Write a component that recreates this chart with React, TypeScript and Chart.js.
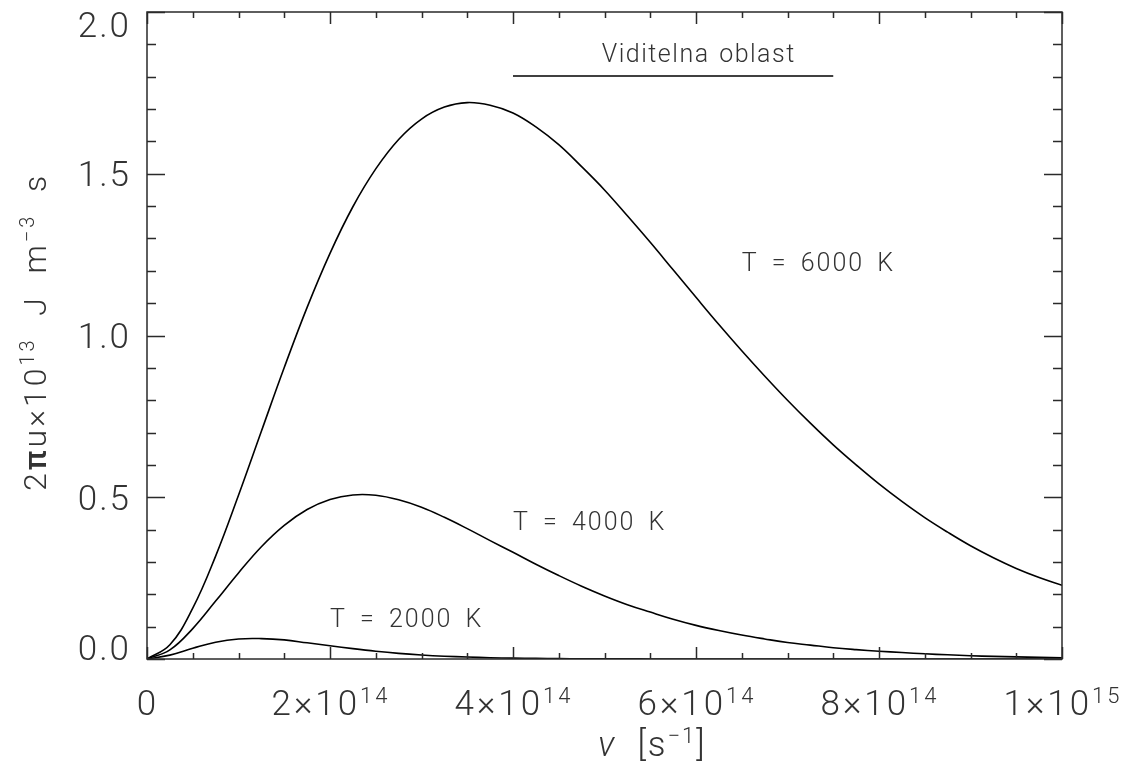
import React, { useEffect, useRef } from 'react';
import { Chart, registerables } from 'chart.js';

Chart.register(...registerables);

// frequency in units of 1e14 s^-1
const nu = [0, 0.25, 0.5, 0.75, 1, 1.25, 1.5, 1.75, 2, 2.25, 2.5, 2.75, 3, 3.25, 3.5, 3.75, 4, 4.25, 4.5, 4.75, 5, 5.25, 5.5, 5.75, 6, 6.25, 6.5, 6.75, 7, 7.25, 7.5, 7.75, 8, 8.25, 8.5, 8.75, 9, 9.25, 9.5, 9.75, 10];
const u6000 = [0, 0.044, 0.157, 0.318, 0.506, 0.704, 0.901, 1.087, 1.254, 1.398, 1.515, 1.606, 1.669, 1.706, 1.72, 1.712, 1.688, 1.645, 1.59, 1.522, 1.45, 1.37, 1.288, 1.203, 1.118, 1.034, 0.953, 0.875, 0.8, 0.729, 0.662, 0.6, 0.541, 0.487, 0.437, 0.392, 0.35, 0.313, 0.28, 0.252, 0.228];
const u4000 = [0, 0.028, 0.094, 0.179, 0.266, 0.347, 0.413, 0.462, 0.493, 0.507, 0.506, 0.492, 0.469, 0.438, 0.403, 0.366, 0.33, 0.293, 0.258, 0.225, 0.195, 0.168, 0.145, 0.123, 0.104, 0.088, 0.074, 0.062, 0.051, 0.043, 0.035, 0.029, 0.024, 0.02, 0.016, 0.013, 0.01, 0.008, 0.0065, 0.005, 0.004];
const u2000 = [0, 0.012, 0.033, 0.052, 0.062, 0.063, 0.059, 0.05, 0.041, 0.032, 0.024, 0.0175, 0.0125, 0.0087, 0.006, 0.004, 0.0027, 0.0018, 0.0012, 0.0007, 0.0005, 0.0003, 0.0002, 0.0001, 0.0001, 0, 0, 0, 0, 0, 0, 0, 0, 0, 0, 0, 0, 0, 0, 0, 0];

const xTickValues = [0, 2, 4, 6, 8, 10];
const xTickMantissa = ['0', '2×10', '4×10', '6×10', '8×10', '1×10'];
const xTickExponent = ['', '14', '14', '14', '14', '15'];
const yTickValues = [0, 0.5, 1, 1.5, 2];
const yTickLabels = ['0.0', '0.5', '1.0', '1.5', '2.0'];

const visibleRangeNu = [4, 7.5];
const visibleRangeLevel = [1.802, 1.802];
const visibleRangeText = 'Viditelna oblast';

const curveNames = ['T = 6000 K', 'T = 4000 K', 'T = 2000 K'];
const curveNameNu = [6.5, 4.0, 2.0];
const curveNameU = [1.199, 0.399, 0.099];

const FONT = 'Roboto, "DejaVu Sans", sans-serif';
const INK = '#2a2a2a';

type Part = { t: string; sup?: boolean; italic?: boolean; bold?: boolean };

function fontFor(p: Part, size: number) {
  const s = p.sup ? Math.round(size * 0.62) : size;
  return `${p.italic ? 'italic ' : ''}${p.bold ? '500' : '300'} ${s}px ${FONT}`;
}
function measureParts(ctx: any, parts: Part[], size: number) {
  let w = 0;
  for (const p of parts) {
    ctx.font = fontFor(p, size);
    w += ctx.measureText(p.t).width;
  }
  return w;
}
function drawParts(ctx: any, parts: Part[], x: number, y: number, size: number, raise: number) {
  let cx = x;
  for (const p of parts) {
    ctx.font = fontFor(p, size);
    ctx.fillText(p.t, cx, p.sup ? y - raise : y);
    cx += ctx.measureText(p.t).width;
  }
}

const decorPlugin = {
  id: 'decor',
  afterDatasetsDraw(chart: any) {
    const { ctx, chartArea: a, scales } = chart;
    const xs = scales.x;
    const ys = scales.y;
    ctx.save();
    ctx.strokeStyle = INK;
    ctx.lineWidth = 1.5;
    ctx.strokeRect(a.left, a.top, a.right - a.left, a.bottom - a.top);
    ctx.beginPath();
    for (let i = 0; i <= 20; i++) {
      const px = Math.round(xs.getPixelForValue(i * 0.5)) + 0.5;
      const len = i % 4 === 0 ? 12 : 6;
      ctx.moveTo(px, a.bottom);
      ctx.lineTo(px, a.bottom - len);
      ctx.moveTo(px, a.top);
      ctx.lineTo(px, a.top + len);
    }
    for (let i = 0; i <= 20; i++) {
      const py = Math.round(ys.getPixelForValue(i * 0.1)) + 0.5;
      const len = i % 5 === 0 ? 18 : 9;
      ctx.moveTo(a.left, py);
      ctx.lineTo(a.left + len, py);
      ctx.moveTo(a.right, py);
      ctx.lineTo(a.right - len, py);
    }
    ctx.stroke();

    ctx.fillStyle = '#333';
    ctx.textBaseline = 'alphabetic';
    ctx.textAlign = 'left';

    // y tick labels
    (ctx as any).letterSpacing = '2px';
    yTickValues.forEach((v, i) => {
      const py = ys.getPixelForValue(v);
      let base = py + 12.5;
      if (i === 0) base = a.bottom + 1;
      if (i === yTickValues.length - 1) base = a.top + 25;
      const parts = [{ t: yTickLabels[i] }];
      const w = measureParts(ctx, parts, 35);
      drawParts(ctx, parts, 131 - w, base, 35, 0);
    });

    // x tick labels
    (ctx as any).letterSpacing = '3px';
    xTickValues.forEach((v, i) => {
      const px = xs.getPixelForValue(v);
      const parts: Part[] = [{ t: xTickMantissa[i] }];
      if (xTickExponent[i]) parts.push({ t: xTickExponent[i], sup: true });
      const w = measureParts(ctx, parts, 35);
      drawParts(ctx, parts, px - w / 2 + 1, 715, 35, 12);
    });

    // x title
    (ctx as any).letterSpacing = '2px';
    const xTitle: Part[] = [{ t: 'ν', italic: true }, { t: '  [s' }, { t: '−1', sup: true }, { t: ']' }];
    drawParts(ctx, xTitle, 598, 756, 35, 13);

    // y title (rotated)
    ctx.save();
    ctx.translate(46, 332);
    ctx.rotate(-Math.PI / 2);
    (ctx as any).letterSpacing = '3px';
    const yTitle: Part[] = [
      { t: '2' },
      { t: 'π', bold: true },
      { t: 'u×10' },
      { t: '13', sup: true },
      { t: '  J  m' },
      { t: '−3', sup: true },
      { t: '  s' },
    ];
    const yw = measureParts(ctx, yTitle, 32);
    drawParts(ctx, yTitle, -yw / 2, 0, 32, 12);
    ctx.restore();

    // annotations
    (ctx as any).letterSpacing = '2px';
    (ctx as any).wordSpacing = '5px';
    ctx.font = `300 25px ${FONT}`;
    curveNames.forEach((t, i) => {
      ctx.fillText(t, xs.getPixelForValue(curveNameNu[i]), ys.getPixelForValue(curveNameU[i]));
    });
    (ctx as any).letterSpacing = '1.5px';
    (ctx as any).wordSpacing = '2px';
    ctx.textAlign = 'center';
    ctx.fillText(visibleRangeText, xs.getPixelForValue(6.03), ys.getPixelForValue(1.845));
    ctx.restore();
  },
};

export default function App() {
  const ref = useRef<HTMLCanvasElement | null>(null);
  useEffect(() => {
    if (!ref.current) return;
    const mk = (arr: number[]) => nu.map((x, i) => ({ x, y: arr[i] }));
    const line = (label: string, data: any[]) => ({
      label,
      data,
      borderColor: '#000',
      borderWidth: 1.6,
      pointRadius: 0,
      fill: false,
      tension: 0.4,
    });
    const chart = new Chart(ref.current, {
      type: 'line',
      data: {
        datasets: [
          line('T = 6000 K', mk(u6000)),
          line('T = 4000 K', mk(u4000)),
          line('T = 2000 K', mk(u2000)),
          {
            label: visibleRangeText,
            data: visibleRangeNu.map((x, i) => ({ x, y: visibleRangeLevel[i] })),
            borderColor: '#000',
            borderWidth: 1.4,
            pointRadius: 0,
            fill: false,
          },
        ],
      },
      options: {
        animation: false,
        responsive: true,
        maintainAspectRatio: false,
        layout: { padding: { top: 12, right: 75, left: 0, bottom: 0 } },
        plugins: { legend: { display: false }, tooltip: { enabled: false } },
        scales: {
          x: {
            type: 'linear',
            min: 0,
            max: 10,
            afterFit: (s: any) => {
              s.height = 112;
            },
            grid: { display: false, drawTicks: false },
            border: { display: false },
            ticks: { display: false },
          },
          y: {
            type: 'linear',
            min: 0,
            max: 2,
            afterFit: (s: any) => {
              s.width = 147;
            },
            grid: { display: false, drawTicks: false },
            border: { display: false },
            ticks: { display: false },
          },
        },
      },
      plugins: [decorPlugin],
    });
    return () => chart.destroy();
  }, []);
  return (
    <div style={{ position: 'fixed', left: 0, top: 0, width: 1137, height: 771, background: '#fff' }}>
      <canvas ref={ref} />
    </div>
  );
}
